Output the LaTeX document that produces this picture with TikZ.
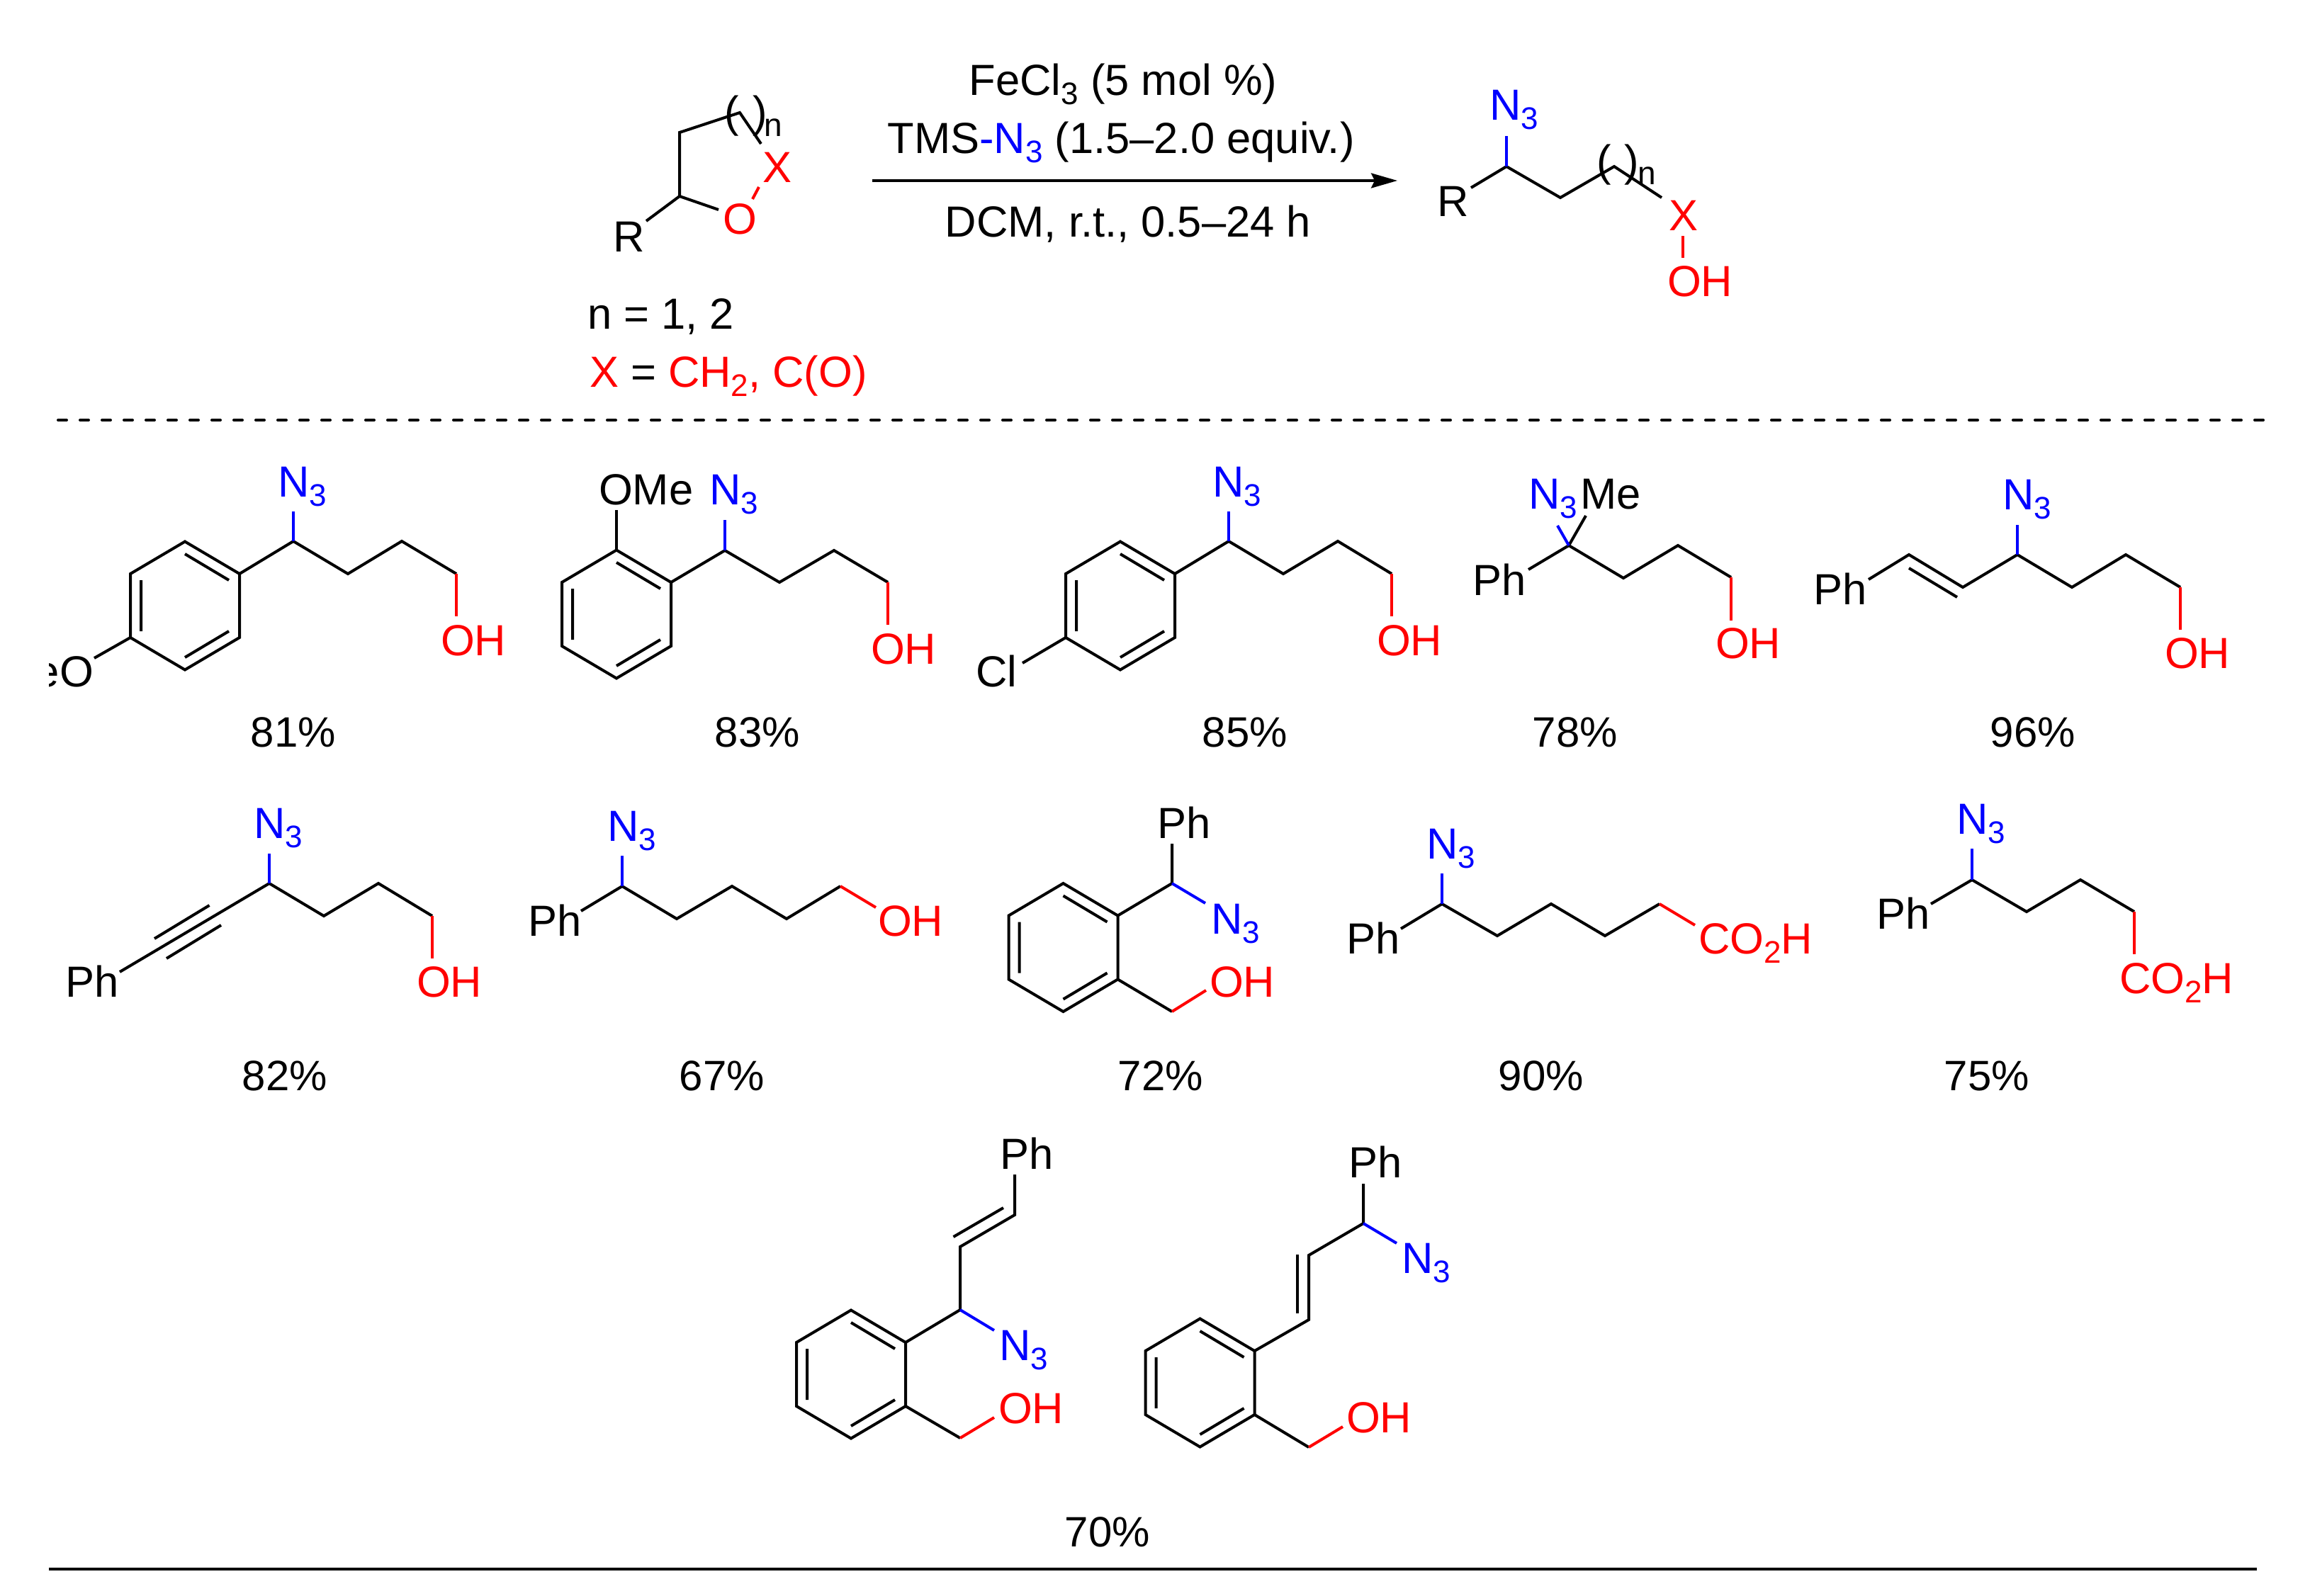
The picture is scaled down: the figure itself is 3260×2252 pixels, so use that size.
\documentclass[tikz,border=0pt]{standalone}
\usepackage{fontspec}
\setmainfont{Liberation Sans}
\usetikzlibrary{arrows.meta,calc}
\definecolor{azide}{RGB}{0,0,255}
\definecolor{oxy}{RGB}{255,0,0}
\newcommand\subs[1]{\raisebox{-13pt}{\fontsize{44}{44}\selectfont #1}}
\newcommand\Nthree{\textcolor{azide}{N\subs{3}}}
\newcommand\OHred{\textcolor{oxy}{OH}}
\newcommand\COOH{\textcolor{oxy}{CO\subs{2}H}}
\tikzset{
  bond/.style={line width=4pt,line join=miter,line cap=butt,black},
  nbond/.style={bond,azide},
  obond/.style={bond,oxy},
  rule/.style={line width=4pt,black},
  lbl/.style={inner sep=0pt,outer sep=0pt,anchor=base west,font=\fontsize{61.5}{70}\selectfont},
  yield/.style={inner sep=0pt,outer sep=0pt,anchor=base,font=\fontsize{60}{70}\selectfont},
  reagent/.style={inner sep=0pt,outer sep=0pt,anchor=base,font=\fontsize{61.5}{70}\selectfont},
  idx/.style={inner sep=0pt,outer sep=0pt,anchor=base west,font=\fontsize{46}{50}\selectfont},
}
\newcommand\hexring[3]{%
  \coordinate (#1a) at (#2,#3-90.5);
  \coordinate (#1b) at (#2+77,#3-45);
  \coordinate (#1c) at (#2+77,#3+45);
  \coordinate (#1d) at (#2,#3+90.5);
  \coordinate (#1e) at (#2-77,#3+45);
  \coordinate (#1f) at (#2-77,#3-45);
  \coordinate (#1ia) at (#2,#3-73);
  \coordinate (#1ib) at (#2+62,#3-36);
  \coordinate (#1ic) at (#2+62,#3+36);
  \coordinate (#1id) at (#2,#3+73);
  \coordinate (#1ie) at (#2-62,#3+36);
  \coordinate (#1if) at (#2-62,#3-36);
  \draw[bond] (#1a)--(#1b)--(#1c)--(#1d)--(#1e)--(#1f)--cycle;
  \draw[bond] (#1ia)--(#1ib) (#1ic)--(#1id) (#1ie)--(#1if);
}
\begin{document}
\begin{tikzpicture}[x=1pt,y=-1pt]
\useasboundingbox (0,0) rectangle (3260,2252);

% --- Reaction scheme -------------------------------------------------
\coordinate (r1) at (959,277);
\coordinate (r2) at (959,187);
\coordinate (r3) at (1044,159);
\coordinate (r3x) at (1074,203);
\coordinate (rR) at (912,312);
\coordinate (rO) at (1014,296);
\coordinate (rOa) at (1062,281);
\coordinate (rXa) at (1071,264);
\draw[bond] (rR)--(r1)--(r2)--(r3)--(r3x);
\draw[bond] (r1)--(rO);
\draw[obond] (rOa)--(rXa);
\node[lbl] (rRl) at (865,355) {R};
\node[lbl,text=oxy] (rOl) at (1020,330) {O};
\node[lbl,text=oxy] (rXl) at (1076,257) {X};
\node[lbl] (rpa) at (1022,179) {(};
\node[lbl] (rpb) at (1062,179) {)};
\node[idx] (rn) at (1078,192) {n};
\node[lbl] (rnote) at (829,464) {n = 1, 2};
\node[lbl] (rxnote) at (832,546) {\textcolor{oxy}{X} = \textcolor{oxy}{CH\subs{2}, C(O)}};

\coordinate (arA) at (1231,255);
\coordinate (arB) at (1972,255);
\draw[line width=3.6pt,-{Stealth[length=37pt,width=21pt,inset=5pt]}] (arA)--(arB);
\node[reagent] (ra) at (1585,134) {FeCl\subs{3} (5 mol \%)};
\node[reagent] (rb) at (1582,216) {TMS\textcolor{azide}{-N\subs{3}} (1.5–2.0 equiv.)};
\node[reagent] (rc) at (1592,334) {DCM, r.t., 0.5–24 h};

\coordinate (p1) at (2126,235);
\coordinate (p1n) at (2126,192);
\coordinate (p1r) at (2076,265);
\coordinate (p2) at (2202,279);
\coordinate (p3) at (2278,235);
\coordinate (p3x) at (2345,279);
\coordinate (pXa) at (2375,333);
\coordinate (pXb) at (2375,364);
\draw[bond] (p1r)--(p1)--(p2)--(p3)--(p3x);
\draw[nbond] (p1)--(p1n);
\draw[obond] (pXa)--(pXb);
\node[lbl] (pN) at (2102,169) {\Nthree};
\node[lbl] (pR) at (2028,305) {R};
\node[lbl,text=oxy] (pX) at (2355,325) {X};
\node[lbl] (pOH) at (2353,418) {\OHred};
\node[lbl] (ppa) at (2253,248) {(};
\node[lbl] (ppb) at (2292,248) {)};
\node[idx] (pn) at (2311,260) {n};

\coordinate (dashA) at (82,593);
\coordinate (dashB) at (3198,593);
\draw[line width=4pt,line cap=round,dash pattern=on 12pt off 19pt,dash phase=0pt] (dashA)--(dashB);

% --- Compound 1 ------------------------------------------------------
\hexring{a}{261}{855}
\coordinate (a1) at (414,764);
\coordinate (a1n) at (414,722);
\coordinate (a2) at (491,810);
\coordinate (a3) at (567,764);
\coordinate (a4) at (644,810);
\coordinate (a4o) at (644,870);
\coordinate (aOe) at (133,929);
\draw[bond] (ab)--(a1)--(a2)--(a3)--(a4);
\draw[bond] (ae)--(aOe);
\draw[nbond] (a1)--(a1n);
\draw[obond] (a4)--(a4o);
\node[lbl] (aN) at (392,701) {\Nthree};
\node[lbl] (aOH) at (622,925) {\OHred};
\begin{scope}
  \clip (69,900) rectangle (200,1000);
  \node[lbl,anchor=base east] (aMeO) at (132,969) {eO};
\end{scope}
\node[yield] (ay) at (414,1054) {81\%};

% --- Compound 2 ------------------------------------------------------
\hexring{b}{870}{867}
\coordinate (b1) at (1023,777);
\coordinate (b1n) at (1023,734);
\coordinate (b2) at (1100,822);
\coordinate (b3) at (1177,777);
\coordinate (b4) at (1253,822);
\coordinate (b4o) at (1253,882);
\coordinate (bOe) at (870,720);
\draw[bond] (bb)--(b1)--(b2)--(b3)--(b4);
\draw[bond] (ba)--(bOe);
\draw[nbond] (b1)--(b1n);
\draw[obond] (b4)--(b4o);
\node[lbl] (bOMe) at (845,712) {OMe};
\node[lbl] (bN) at (1001,712) {\Nthree};
\node[lbl] (bOH) at (1229,937) {\OHred};
\node[yield] (by) at (1069,1054) {83\%};

% --- Compound 3 ------------------------------------------------------
\hexring{c}{1581}{855}
\coordinate (c1) at (1734,764);
\coordinate (c1n) at (1734,722);
\coordinate (c2) at (1811,810);
\coordinate (c3) at (1888,764);
\coordinate (c4) at (1964,810);
\coordinate (c4o) at (1964,870);
\coordinate (cCl) at (1443,936);
\draw[bond] (cb)--(c1)--(c2)--(c3)--(c4);
\draw[bond] (ce)--(cCl);
\draw[nbond] (c1)--(c1n);
\draw[obond] (c4)--(c4o);
\node[lbl] (cN) at (1711,701) {\Nthree};
\node[lbl] (cOH) at (1943,925) {\OHred};
\node[lbl] (cCll) at (1377,969) {Cl};
\node[yield] (cy) at (1757,1054) {85\%};

% --- Compound 4 ------------------------------------------------------
\coordinate (d1) at (2214,770);
\coordinate (d1n) at (2198,742);
\coordinate (d1m) at (2238,728);
\coordinate (d1p) at (2157,804);
\coordinate (d2) at (2291,816);
\coordinate (d3) at (2368,770);
\coordinate (d4) at (2443,815);
\coordinate (d4o) at (2443,876);
\draw[bond] (d1p)--(d1)--(d2)--(d3)--(d4);
\draw[bond] (d1)--(d1m);
\draw[nbond] (d1)--(d1n);
\draw[obond] (d4)--(d4o);
\node[lbl] (dN) at (2157,718) {\Nthree};
\node[lbl] (dMe) at (2230,718) {Me};
\node[lbl] (dPh) at (2078,840) {Ph};
\node[lbl] (dOH) at (2421,929) {\OHred};
\node[yield] (dy) at (2223,1054) {78\%};

% --- Compound 5 ------------------------------------------------------
\coordinate (e0) at (2637,818);
\coordinate (e1) at (2694,783);
\coordinate (e2) at (2770,829);
\coordinate (e3) at (2847,783);
\coordinate (e3n) at (2847,741);
\coordinate (e4) at (2924,829);
\coordinate (e5) at (3000,783);
\coordinate (e6) at (3077,829);
\coordinate (e6o) at (3077,889);
\coordinate (e1i) at (2694,802);
\coordinate (e2i) at (2762,843);
\draw[bond] (e0)--(e1)--(e2)--(e3)--(e4)--(e5)--(e6);
\draw[bond] (e1i)--(e2i);
\draw[nbond] (e3)--(e3n);
\draw[obond] (e6)--(e6o);
\node[lbl] (eN) at (2826,719) {\Nthree};
\node[lbl] (ePh) at (2559,853) {Ph};
\node[lbl] (eOH) at (3055,943) {\OHred};
\node[yield] (ey) at (2869,1054) {96\%};

% --- Compound 6 ------------------------------------------------------
\coordinate (f0) at (169,1372);
\coordinate (f1) at (380,1247);
\coordinate (f1n) at (380,1205);
\coordinate (f2) at (457,1293);
\coordinate (f3) at (534,1247);
\coordinate (f4) at (610,1293);
\coordinate (f4o) at (610,1353);
\coordinate (fta) at (295.5,1278);
\coordinate (ftb) at (218,1325);
\coordinate (ftc) at (312,1306);
\coordinate (ftd) at (235,1353);
\draw[bond] (f0)--(f1)--(f2)--(f3)--(f4);
\draw[bond] (fta)--(ftb);
\draw[bond] (ftc)--(ftd);
\draw[nbond] (f1)--(f1n);
\draw[obond] (f4)--(f4o);
\node[lbl] (fN) at (358,1183) {\Nthree};
\node[lbl] (fPh) at (92,1407) {Ph};
\node[lbl] (fOH) at (588,1407) {\OHred};
\node[yield] (fy) at (402,1539) {82\%};

% --- Compound 7 ------------------------------------------------------
\coordinate (g0) at (820,1286);
\coordinate (g1) at (878,1251);
\coordinate (g1n) at (878,1208);
\coordinate (g2) at (955,1297);
\coordinate (g3) at (1033,1251);
\coordinate (g4) at (1110,1297);
\coordinate (g5) at (1186,1251);
\coordinate (g5o) at (1236,1281);
\draw[bond] (g0)--(g1)--(g2)--(g3)--(g4)--(g5);
\draw[nbond] (g1)--(g1n);
\draw[obond] (g5)--(g5o);
\node[lbl] (gN) at (857,1187) {\Nthree};
\node[lbl] (gPh) at (745,1321) {Ph};
\node[lbl] (gOH) at (1239,1321) {\OHred};
\node[yield] (gy) at (1019,1539) {67\%};

% --- Compound 8 ------------------------------------------------------
\hexring{h}{1500.5}{1337.5}
\coordinate (h1) at (1654,1247);
\coordinate (h1p) at (1654,1191);
\coordinate (h1n) at (1701,1275);
\coordinate (h2) at (1654,1428);
\coordinate (h2o) at (1702,1398);
\draw[bond] (hb)--(h1)--(h1p);
\draw[bond] (hc)--(h2);
\draw[nbond] (h1)--(h1n);
\draw[obond] (h2)--(h2o);
\node[lbl] (hPh) at (1633,1183) {Ph};
\node[lbl] (hN) at (1709,1318) {\Nthree};
\node[lbl] (hOH) at (1707,1407) {\OHred};
\node[yield] (hy) at (1638,1539) {72\%};

% --- Compound 9 ------------------------------------------------------
\coordinate (i0) at (1977,1311);
\coordinate (i1) at (2035,1276);
\coordinate (i1n) at (2035,1233);
\coordinate (i2) at (2113,1321);
\coordinate (i3) at (2189,1276);
\coordinate (i4) at (2265,1321);
\coordinate (i5) at (2342,1276);
\coordinate (i5o) at (2392,1306);
\draw[bond] (i0)--(i1)--(i2)--(i3)--(i4)--(i5);
\draw[nbond] (i1)--(i1n);
\draw[obond] (i5)--(i5o);
\node[lbl] (iN) at (2013,1212) {\Nthree};
\node[lbl] (iPh) at (1900,1346) {Ph};
\node[lbl] (iC) at (2397,1346) {\COOH};
\node[yield] (iy) at (2175,1539) {90\%};

% --- Compound 10 -----------------------------------------------------
\coordinate (j0) at (2725,1276);
\coordinate (j1) at (2783,1242);
\coordinate (j1n) at (2783,1198);
\coordinate (j2) at (2860,1287);
\coordinate (j3) at (2936,1242);
\coordinate (j4) at (3012,1287);
\coordinate (j4o) at (3012,1347);
\draw[bond] (j0)--(j1)--(j2)--(j3)--(j4);
\draw[nbond] (j1)--(j1n);
\draw[obond] (j4)--(j4o);
\node[lbl] (jN) at (2761,1177) {\Nthree};
\node[lbl] (jPh) at (2648,1311) {Ph};
\node[lbl] (jC) at (2991,1402) {\COOH};
\node[yield] (jy) at (2804,1539) {75\%};

% --- Compound 11 -----------------------------------------------------
\hexring{k}{1201}{1940}
\coordinate (k1) at (1355,1849);
\coordinate (k1n) at (1403,1878);
\coordinate (k2) at (1355,1760);
\coordinate (k3) at (1432,1715);
\coordinate (k3p) at (1432,1658);
\coordinate (k2i) at (1345.5,1746);
\coordinate (k3i) at (1416,1705);
\coordinate (k4) at (1355,2030);
\coordinate (k4o) at (1403,2001);
\draw[bond] (kb)--(k1)--(k2)--(k3)--(k3p);
\draw[bond] (k2i)--(k3i);
\draw[bond] (kc)--(k4);
\draw[nbond] (k1)--(k1n);
\draw[obond] (k4)--(k4o);
\node[lbl] (kN) at (1410,1920) {\Nthree};
\node[lbl] (kPh) at (1411,1650) {Ph};
\node[lbl] (kOH) at (1409,2009) {\OHred};

% --- Compound 12 -----------------------------------------------------
\hexring{m}{1693.5}{1952}
\coordinate (m1) at (1847,1863);
\coordinate (m2) at (1847,1772);
\coordinate (m3) at (1924,1727);
\coordinate (m3p) at (1924,1671);
\coordinate (m3n) at (1971,1755);
\coordinate (m1i) at (1831,1854);
\coordinate (m2i) at (1831,1771);
\coordinate (m4) at (1847,2043);
\coordinate (m4o) at (1895,2014);
\draw[bond] (mb)--(m1)--(m2)--(m3)--(m3p);
\draw[bond] (m1i)--(m2i);
\draw[bond] (mc)--(m4);
\draw[nbond] (m3)--(m3n);
\draw[obond] (m4)--(m4o);
\node[lbl] (mN) at (1978,1797) {\Nthree};
\node[lbl] (mPh) at (1903,1662) {Ph};
\node[lbl] (mOH) at (1900,2022) {\OHred};
\node[yield] (my) at (1563,2183) {70\%};

% --- Bottom rule -----------------------------------------------------
\coordinate (ruleA) at (69,2215);
\coordinate (ruleB) at (3185,2215);
\draw[rule] (ruleA)--(ruleB);
\end{tikzpicture}
\end{document}
